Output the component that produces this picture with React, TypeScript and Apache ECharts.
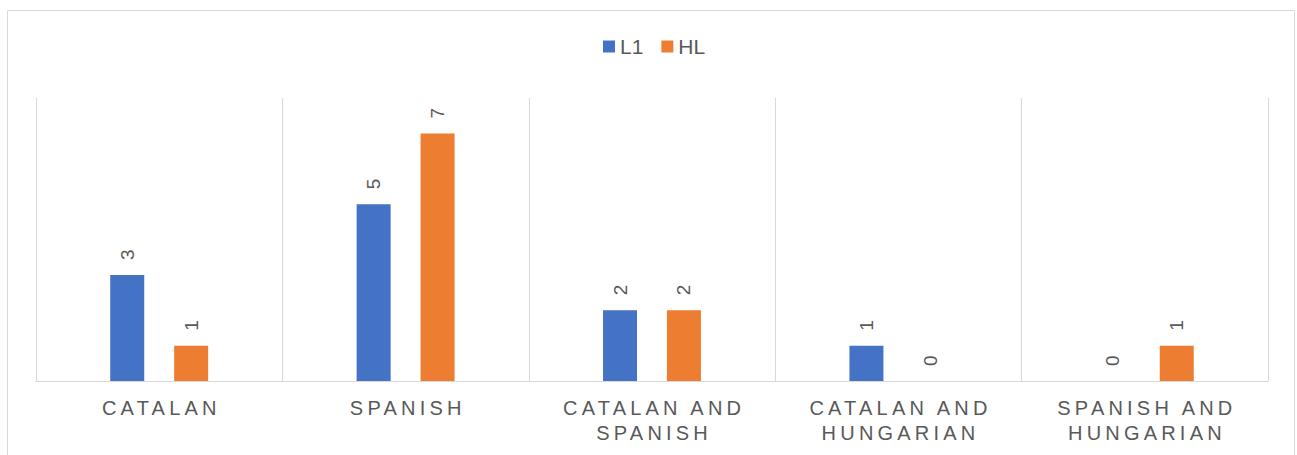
import React, { useEffect, useRef } from "react";
import * as echarts from "echarts";

const categories = [
  "Catalan",
  "Spanish",
  "Catalan and Spanish",
  "Catalan and Hungarian",
  "Spanish and Hungarian",
];
const seriesNames = ["L1", "HL"];
const l1Values = [3, 5, 2, 1, 0];
const hlValues = [1, 7, 2, 0, 1];
const colors = ["#4472C4", "#ED7D31"];

const FONT = "'Liberation Sans', Arial, sans-serif";
const LETTER_SPACING = 4.2;

const formatCategory = (v: string) => v.toUpperCase().replace(" AND ", " AND\n");

export default function App() {
  const ref = useRef<HTMLDivElement>(null);

  useEffect(() => {
    if (!ref.current) return;
    const chart = echarts.init(ref.current, undefined, { renderer: "svg" });
    const labelStyle = {
      show: true,
      position: "top" as const,
      rotate: 90,
      align: "left" as const,
      verticalAlign: "middle" as const,
      distance: 15,
      fontSize: 19,
      color: "#595959",
      fontFamily: FONT,
    };
    chart.setOption({
      animation: false,
      textStyle: { fontFamily: FONT },
      graphic: [
        {
          type: "rect",
          shape: { x: 7.5, y: 10.5, width: 1287, height: 470 },
          style: { fill: "none", stroke: "#d9d9d9", lineWidth: 1 },
          silent: true,
          z: -1,
        },
      ],
      legend: {
        data: seriesNames,
        top: 36,
        left: 603,
        padding: 0,
        itemWidth: 12,
        itemHeight: 12,
        itemGap: 18,
        icon: "rect",
        textStyle: { fontSize: 21, color: "#595959", fontFamily: FONT },
      },
      grid: { left: 36, right: 29, top: 98, bottom: 74, containLabel: false },
      xAxis: {
        type: "category",
        data: categories,
        axisLine: { show: true, lineStyle: { color: "#d9d9d9", width: 1 } },
        axisTick: { show: false },
        splitLine: { show: true, lineStyle: { color: "#d9d9d9", width: 1 } },
        axisLabel: {
          interval: 0,
          margin: 14,
          fontSize: 20,
          lineHeight: 25,
          color: "#595959",
          fontFamily: FONT,
          formatter: formatCategory,
        },
      },
      yAxis: {
        type: "value",
        min: 0,
        max: 8,
        show: false,
        splitLine: { show: false },
      },
      series: [
        {
          name: seriesNames[0],
          type: "bar",
          data: l1Values,
          barWidth: 34,
          barGap: "88%",
          itemStyle: { color: colors[0] },
          label: labelStyle,
        },
        {
          name: seriesNames[1],
          type: "bar",
          data: hlValues,
          barWidth: 34,
          barGap: "88%",
          itemStyle: { color: colors[1] },
          label: labelStyle,
        },
      ],
    });

    // apply letter spacing to category labels (as in the reference styling)
    const lines = new Set<string>();
    categories.forEach((c) => formatCategory(c).split("\n").forEach((l) => lines.add(l)));
    ref.current.querySelectorAll("text").forEach((t) => {
      const txt = (t.textContent || "").trim();
      if (lines.has(txt)) {
        t.setAttribute("letter-spacing", String(LETTER_SPACING));
        t.setAttribute("dx", String(LETTER_SPACING / 2));
      }
    });

    return () => chart.dispose();
  }, []);

  return (
    <div
      ref={ref}
      style={{ position: "fixed", left: 0, top: 0, width: 1297, height: 455, background: "#fff" }}
    />
  );
}
